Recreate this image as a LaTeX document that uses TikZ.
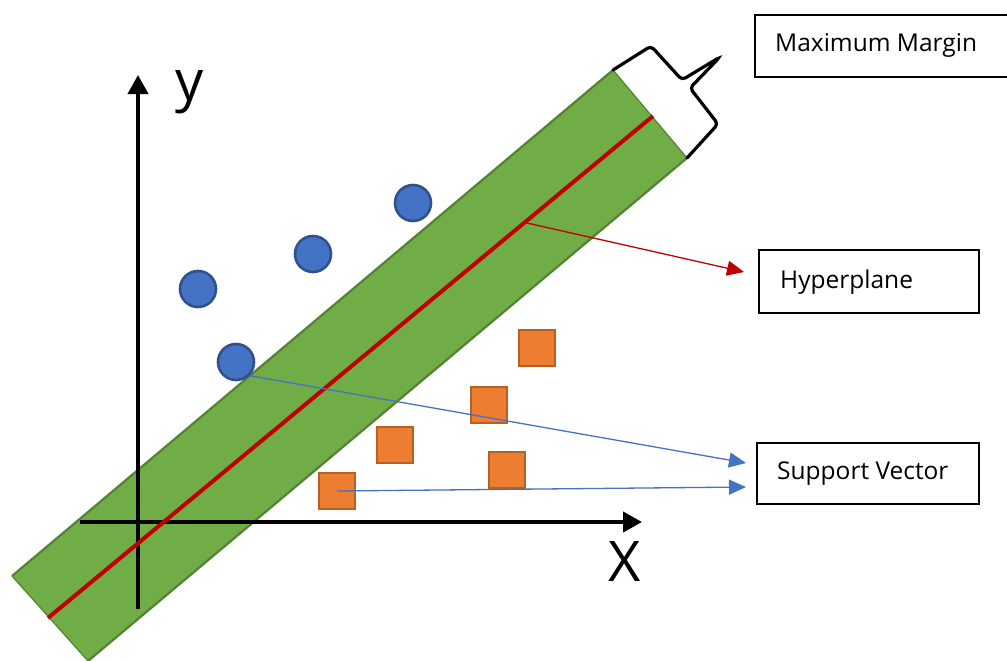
\documentclass[tikz,border=0pt]{standalone}
\usepackage{fontspec}
\setmainfont{Open Sans}
\usetikzlibrary{arrows.meta,calc}
\definecolor{bandgreen}{HTML}{70AD47}
\definecolor{banddark}{HTML}{548235}
\definecolor{hypred}{HTML}{C00000}
\definecolor{ptblue}{HTML}{4472C4}
\definecolor{ptbluedark}{HTML}{2F528F}
\definecolor{ptorange}{HTML}{ED7D31}
\definecolor{ptorangedark}{HTML}{B85F22}
\begin{document}
\begin{tikzpicture}[x=1pt,y=-1pt,
  bluept/.style={circle,fill=ptblue,draw=ptbluedark,line width=2.6pt,minimum size=36pt,inner sep=0pt},
  orangept/.style={rectangle,fill=ptorange,draw=ptorangedark,line width=2.6pt,minimum size=36pt,inner sep=0pt},
  labelbox/.style={draw=black,line width=1.8pt,inner sep=0pt},
  boxtext/.style={anchor=west,inner sep=0pt,font=\fontsize{24.5}{28}\selectfont,text=black},
  axis/.style={line width=4pt,-{Triangle[length=19pt,width=20pt]}},
  bigletter/.style={inner sep=0pt,font=\fontsize{56}{60}\selectfont}
]
\useasboundingbox (0,0) rectangle (1007,661);
% band
\coordinate (bA) at (12,576);
\coordinate (bB) at (88,661);
\coordinate (bC) at (687,158);
\coordinate (bD) at (613,70);
\fill[bandgreen] (bA) -- (bB) -- (bC) -- (bD) -- cycle;
\draw[banddark,line width=2.2pt] (bA) -- (bD);
\draw[banddark,line width=2.2pt] (bB) -- (bC);
\draw[banddark,line width=1.2pt] (bA) -- (bB);
\draw[banddark,line width=1.2pt] (bD) -- (bC);
% axes
\coordinate (xs) at (80,522);
\coordinate (xe) at (642,522);
\coordinate (ys) at (138,609);
\coordinate (ye) at (138,75);
\draw[axis] (xs) -- (xe);
\draw[axis] (ys) -- (ye);
\node[bigletter,anchor=center] (ylab) at (190,92) {y};
\node[bigletter,anchor=center] (xlab) at (625,562) {X};
% hyperplane
\coordinate (h1) at (48,618);
\coordinate (h2) at (653,116);
\draw[hypred,line width=4pt] (h1) -- (h2);
% brace
\draw[black,line width=3.2pt,rounded corners=4pt,line cap=round] (bD) -- (651,46) -- (682,80) -- (720,57) -- (690,88) -- (718,124) -- (bC);
% points
\node[bluept] (c1) at (413,203) {};
\node[bluept] (c2) at (313,254) {};
\node[bluept] (c3) at (198,289) {};
\node[bluept] (c4) at (236,362) {};
\node[orangept] (s1) at (537,348) {};
\node[orangept] (s2) at (489,405) {};
\node[orangept] (s3) at (395,445) {};
\node[orangept] (s4) at (507,470) {};
\node[orangept] (s5) at (337,491) {};
% boxes
\node[labelbox,minimum width=254pt,minimum height=62pt,anchor=north west] (mm) at (754,14) {};
\node[boxtext] (mmt) at (775,45) {Maximum Margin};
\node[labelbox,minimum width=220pt,minimum height=63pt,anchor=north west] (hp) at (758,249) {};
\node[boxtext] (hpt) at (780,282) {Hyperplane};
\node[labelbox,minimum width=222pt,minimum height=61pt,anchor=north west] (sv) at (756,442) {};
\node[boxtext] (svt) at (777,474) {Support Vector};
% connectors
\coordinate (hpstart) at (527,223);
\coordinate (hpend) at (744,272);
\coordinate (sv1end) at (746,463);
\coordinate (sv2end) at (746,487);
\draw[hypred,line width=1.3pt,-{Triangle[length=17pt,width=15pt]}] (hpstart) -- (hpend);
\draw[ptblue,line width=1.3pt,-{Triangle[length=17pt,width=15pt]}] (c4.south east) -- (sv1end);
\draw[ptblue,line width=1.3pt,-{Triangle[length=17pt,width=15pt]}] (s5.center) -- (sv2end);
\end{tikzpicture}
\end{document}
